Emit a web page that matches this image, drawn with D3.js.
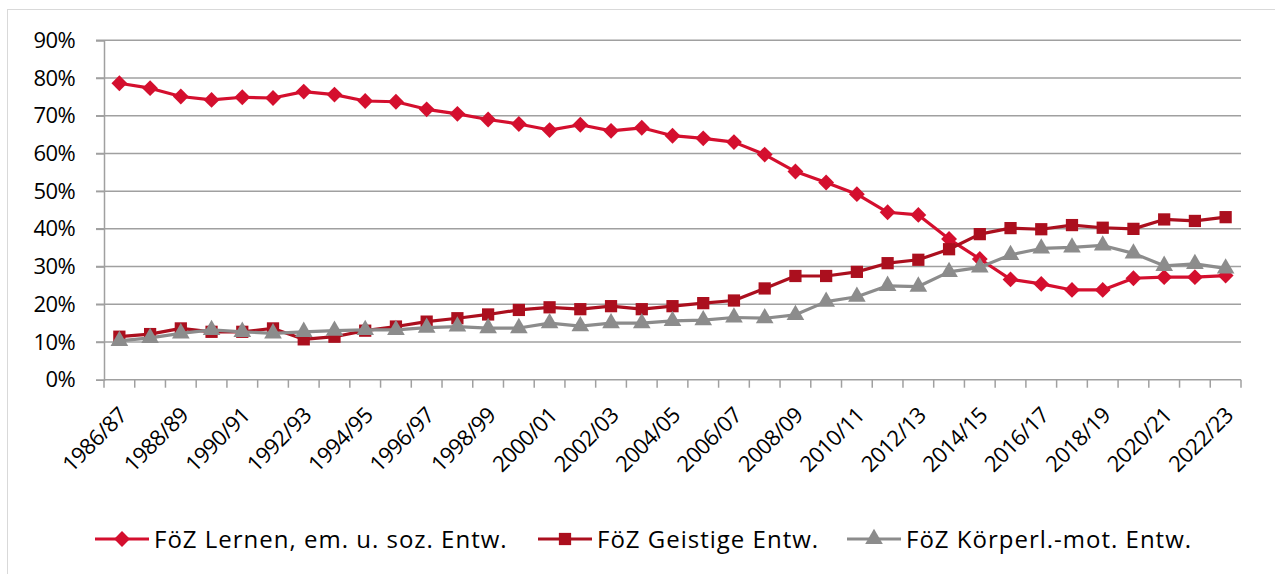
<!DOCTYPE html>
<html>
<head>
<meta charset="utf-8">
<script src="https://cdn.jsdelivr.net/npm/d3@7"></script>
<style>
  body { margin: 0; background: #fff; }
  svg { display: block; font-family: "Open Sans", "Noto Sans", sans-serif; }
</style>
</head>
<body>
<svg id="chart" width="1275" height="574"></svg>
<script>
// school years (every other one gets a label)
const years = ["1986/87","1987/88","1988/89","1989/90","1990/91","1991/92","1992/93","1993/94",
  "1994/95","1995/96","1996/97","1997/98","1998/99","1999/00","2000/01","2001/02","2002/03",
  "2003/04","2004/05","2005/06","2006/07","2007/08","2008/09","2009/10","2010/11","2011/12",
  "2012/13","2013/14","2014/15","2015/16","2016/17","2017/18","2018/19","2019/20","2020/21",
  "2021/22","2022/23"];

// shares in percent
const lernen = [78.6,77.3,75.1,74.2,74.9,74.7,76.4,75.6,73.9,73.7,71.7,70.5,69.0,67.8,66.2,67.6,
  66.0,66.8,64.7,64.0,63.0,59.7,55.2,52.3,49.2,44.4,43.7,37.3,32.0,26.6,25.4,23.8,23.8,26.9,27.2,27.2,27.6];
const geistig = [11.4,12.1,13.6,12.7,12.7,13.6,10.7,11.4,13.0,14.1,15.4,16.3,17.3,18.5,19.2,18.7,
  19.5,18.7,19.5,20.3,21.0,24.2,27.5,27.5,28.6,30.9,31.8,34.6,38.6,40.2,39.9,41.0,40.3,40.0,42.5,42.1,43.1];
const koerper = [10.3,11.1,12.3,13.2,12.7,12.3,12.7,13.0,13.2,13.2,13.8,14.1,13.7,13.7,15.0,14.2,
  15.0,15.0,15.6,15.8,16.5,16.3,17.2,20.7,22.0,24.9,24.7,28.6,29.8,33.1,34.8,35.1,35.6,33.5,30.2,30.7,29.5];

const yTicks = [0,10,20,30,40,50,60,70,80,90];

const series = [
  {name: "FöZ Lernen, em. u. soz. Entw.", values: lernen, color: "#d40f2e", symbol: "diamond"},
  {name: "FöZ Geistige Entw.", values: geistig, color: "#ab0f1e", symbol: "square"},
  {name: "FöZ Körperl.-mot. Entw.", values: koerper, color: "#8c8c8c", symbol: "triangle"}
];

const svg = d3.select("#chart");
const plotL = 104, plotR = 1241, plotT = 40.3, plotB = 379.7;

// outer frame
svg.append("rect").attr("x", 7.5).attr("y", 9.5).attr("width", 1300).attr("height", 600)
  .attr("fill", "none").attr("stroke", "#d9d9d9");

const x = d3.scaleBand().domain(years).range([plotL, plotR]);
const y = d3.scaleLinear().domain([0, 90]).range([plotB, plotT]);

// grid
svg.append("g").selectAll("line").data(yTicks.slice(1)).join("line")
  .attr("x1", plotL - 8).attr("x2", plotR)
  .attr("y1", d => y(d)).attr("y2", d => y(d))
  .attr("stroke", "#a0a0a0").attr("stroke-width", 1.5);

// y axis
const yAxis = svg.append("g").attr("transform", `translate(${plotL},0)`)
  .call(d3.axisLeft(y).tickValues(yTicks).tickSize(8).tickFormat(d => d + "%"));
yAxis.select(".domain").attr("stroke", "#a0a0a0").attr("stroke-width", 1.5);
yAxis.selectAll(".tick line").attr("stroke", "#a0a0a0").attr("stroke-width", 1.5);
yAxis.selectAll("text").attr("font-size", 22).attr("fill", "#000").attr("x", -29)
  .attr("letter-spacing", -0.6).attr("font-family", "Open Sans, sans-serif");

// x axis: ticks between categories
const xg = svg.append("g");
xg.append("line").attr("x1", plotL).attr("x2", plotR).attr("y1", plotB).attr("y2", plotB)
  .attr("stroke", "#a0a0a0").attr("stroke-width", 1.5);
const bounds = years.map(d => x(d)).concat([plotR]);
xg.selectAll("line.tk").data(bounds).join("line").attr("class", "tk")
  .attr("x1", d => d).attr("x2", d => d).attr("y1", plotB).attr("y2", plotB + 8)
  .attr("stroke", "#a0a0a0").attr("stroke-width", 1.5);
xg.selectAll("text").data(years.filter((d, i) => i % 2 === 0)).join("text")
  .attr("transform", d => `translate(${x(d) + x.bandwidth() / 2 + 9},${plotB + 37}) rotate(-45)`)
  .attr("text-anchor", "end").attr("font-size", 22).attr("letter-spacing", -0.5).text(d => d);

const cx = i => x(years[i]) + x.bandwidth() / 2;
const sym = {
  diamond: d3.symbol().type(d3.symbolDiamond2).size(160),
  square: d3.symbol().type(d3.symbolSquare).size(150),
  triangle: d3.symbol().type(d3.symbolTriangle).size(135)
};

const line = d3.line().x((d, i) => cx(i)).y(d => y(d));
series.forEach(s => {
  const g = svg.append("g");
  g.append("path").datum(s.values).attr("d", line)
    .attr("fill", "none").attr("stroke", s.color).attr("stroke-width", 3.2)
    .attr("stroke-linejoin", "round");
  g.selectAll("path.m").data(s.values).join("path").attr("class", "m")
    .attr("d", sym[s.symbol])
    .attr("transform", (d, i) => `translate(${cx(i)},${y(d)})`)
    .attr("fill", s.color);
});

// legend
const legendX = [95, 538, 847];
const lg = svg.append("g");
series.forEach((s, k) => {
  const gx = legendX[k], gy = 539;
  lg.append("line").attr("x1", gx).attr("x2", gx + 54).attr("y1", gy).attr("y2", gy)
    .attr("stroke", s.color).attr("stroke-width", 3.2);
  lg.append("path").attr("d", sym[s.symbol]).attr("transform", `translate(${gx + 27},${gy})`)
    .attr("fill", s.color);
  lg.append("text").attr("x", gx + 59).attr("y", gy + 9).attr("font-size", 24)
    .attr("letter-spacing", 1).text(s.name);
});
</script>
</body>
</html>
